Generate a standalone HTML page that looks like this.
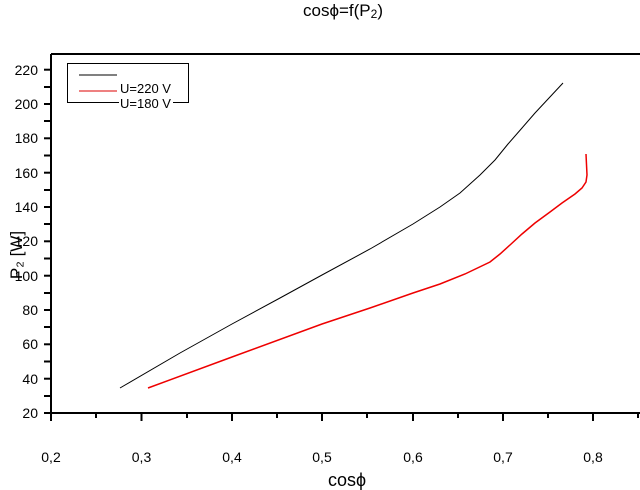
<!DOCTYPE html>
<html><head><style>body{margin:0;background:#fff}svg{display:block}</style></head><body>
<svg width="640" height="490" xmlns="http://www.w3.org/2000/svg" font-family="Liberation Sans, sans-serif">
<text x="343" y="16" font-size="17" text-anchor="middle">cosϕ=f(P<tspan font-size="12" dy="2">2</tspan><tspan dy="-2">)</tspan></text>
<g stroke="#000" stroke-width="2" fill="none">
<path d="M51,54 V413 H640"/>
<path d="M51,54 H640"/>
</g>
<g stroke="#000" stroke-width="2">
<line x1="44" y1="413" x2="51" y2="413"/><line x1="44" y1="378.7" x2="51" y2="378.7"/><line x1="44" y1="344.3" x2="51" y2="344.3"/><line x1="44" y1="310" x2="51" y2="310"/><line x1="44" y1="275.7" x2="51" y2="275.7"/><line x1="44" y1="241.3" x2="51" y2="241.3"/><line x1="44" y1="207" x2="51" y2="207"/><line x1="44" y1="172.7" x2="51" y2="172.7"/><line x1="44" y1="138.3" x2="51" y2="138.3"/><line x1="44" y1="104" x2="51" y2="104"/><line x1="44" y1="69.7" x2="51" y2="69.7"/>
<line x1="44" y1="396" x2="51" y2="396"/><line x1="44" y1="361.5" x2="51" y2="361.5"/><line x1="44" y1="327" x2="51" y2="327"/><line x1="44" y1="293" x2="51" y2="293"/><line x1="44" y1="258.5" x2="51" y2="258.5"/><line x1="44" y1="224" x2="51" y2="224"/><line x1="44" y1="190" x2="51" y2="190"/><line x1="44" y1="155.5" x2="51" y2="155.5"/><line x1="44" y1="121" x2="51" y2="121"/><line x1="44" y1="87" x2="51" y2="87"/>
<line x1="51" y1="413" x2="51" y2="421"/><line x1="141.5" y1="413" x2="141.5" y2="421"/><line x1="232" y1="413" x2="232" y2="421"/><line x1="322" y1="413" x2="322" y2="421"/><line x1="413" y1="413" x2="413" y2="421"/><line x1="503" y1="413" x2="503" y2="421"/><line x1="593" y1="413" x2="593" y2="421"/>
<line x1="96" y1="413" x2="96" y2="418"/><line x1="187" y1="413" x2="187" y2="418"/><line x1="277" y1="413" x2="277" y2="418"/><line x1="367" y1="413" x2="367" y2="418"/><line x1="458" y1="413" x2="458" y2="418"/><line x1="548" y1="413" x2="548" y2="418"/><line x1="638" y1="413" x2="638" y2="418"/>
</g>
<g font-size="14" text-anchor="end">
<text x="38" y="418">20</text><text x="38" y="384">40</text><text x="38" y="349">60</text><text x="38" y="315">80</text><text x="38" y="281">100</text><text x="38" y="246">120</text><text x="38" y="212">140</text><text x="38" y="178">160</text><text x="38" y="143">180</text><text x="38" y="109">200</text><text x="38" y="75">220</text>
</g>
<g font-size="14" text-anchor="middle">
<text x="51" y="462">0,2</text><text x="141.5" y="462">0,3</text><text x="232" y="462">0,4</text><text x="322" y="462">0,5</text><text x="413" y="462">0,6</text><text x="503" y="462">0,7</text><text x="593" y="462">0,8</text>
</g>
<text x="347" y="486" font-size="18" text-anchor="middle">cosϕ</text>
<text transform="translate(22,255) rotate(-90)" font-size="17" text-anchor="middle">P₂ [W]</text>
<rect x="67.5" y="63.5" width="121" height="39" fill="#fff" stroke="#000"/>
<line x1="79" y1="75" x2="117" y2="75" stroke="#000"/>
<line x1="79" y1="91" x2="117" y2="91" stroke="#d00"/>
<rect x="119" y="96" width="54" height="12" fill="#fff"/>
<text x="120" y="93" font-size="13">U=220 V</text>
<text x="120" y="108" font-size="13">U=180 V</text>
<path d="M120,388 L180,353 L232,324 L280,298 L322,275 L370,249 L413,224 L440,207 L460,193 L480,175 L495,160 L508,144 L522,128 L535,113 L549,98 L563,83" fill="none" stroke="#000" stroke-width="1"/>
<path d="M148,388 L232,357 L322,324 L370,308 L413,293 L440,284 L465,274 L490,262 L500,254 L510,245 L522,234 L535,223 L550,212 L562,203 L575,194 L582,188 L586,182 L587,175 L586,154" fill="none" stroke="#e00" stroke-width="1.5"/>
</svg>
</body></html>
